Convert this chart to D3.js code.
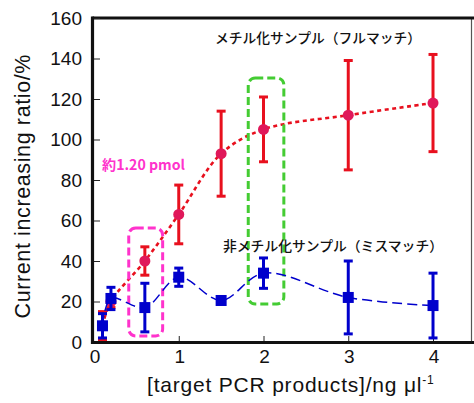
<!DOCTYPE html>
<html>
<head>
<meta charset="utf-8">
<script src="https://cdn.jsdelivr.net/npm/d3@7"></script>
<style>
  html, body { margin: 0; padding: 0; background: #fff; }
  svg { display: block; }
</style>
</head>
<body>
<div id="chart"></div>
<script>
// DATA
const concs = [0.1, 0.2, 0.6, 1, 1.5, 2, 3, 4];
const fullMatch = [8, 20, 40, 63, 93, 105, 112, 118];
const fullMatchErr = [7, 3, 7, 14.5, 21, 16, 27, 24];
const misMatch = [8, 21.5, 17, 32, 20.5, 34, 22, 18];
const misMatchErr = [6, 5.5, 12, 4.5, 0, 7.5, 18, 16];
const xTicks = [0, 1, 2, 3, 4];
const yTicks = [0, 20, 40, 60, 80, 100, 120, 140, 160];
const fullLabel = "メチル化サンプル（フルマッチ）";
const misLabel = "非メチル化サンプル（ミスマッチ）";
const noteLabel = "約1.20 pmol";

const W = 474, H = 403;
const margin = { top: 18, right: 2, bottom: 61, left: 94 };

const svg = d3.select("#chart").append("svg")
    .attr("width", W).attr("height", H);

const x = d3.scaleLinear().domain([0, 4.46]).range([margin.left, W - margin.right]);
const y = d3.scaleLinear().domain([0, 160]).range([H - margin.bottom, margin.top]);

const red = "#e8101e", redDot = "#e0185a", blue = "#0000cc";

// FRAME
svg.append("line").attr("x1", x(4.46) - 0.5).attr("x2", x(4.46) - 0.5)
    .attr("y1", y(160)).attr("y2", y(0))
    .attr("stroke", "#555").attr("stroke-width", 1.2);
svg.append("line").attr("x1", x(0) - 1.5).attr("x2", W)
    .attr("y1", y(160)).attr("y2", y(160))
    .attr("stroke", "#111").attr("stroke-width", 3);

// AXES (inside ticks)
const yAxis = svg.append("g")
    .attr("transform", `translate(${x(0)},0)`)
    .call(d3.axisRight(y).tickValues(yTicks).tickSize(6).tickFormat(""));
yAxis.select(".domain").remove();
yAxis.selectAll(".tick line").attr("stroke", "#222");
svg.selectAll(".ylab").data(yTicks).enter().append("text")
    .attr("class", "ylab")
    .attr("x", 82).attr("y", d => y(d)).attr("dy", "0.36em")
    .attr("text-anchor", "end")
    .style("font-family", "'Liberation Sans', Arial, sans-serif")
    .style("font-size", "19px").style("fill", "#111")
    .text(d => d);

const xAxis = svg.append("g")
    .attr("transform", `translate(0,${y(0)})`)
    .call(d3.axisTop(x).tickValues(xTicks.filter(d => d > 0)).tickSize(6).tickFormat(""));
xAxis.select(".domain").remove();
xAxis.selectAll(".tick line").attr("stroke", "#222");
svg.selectAll(".xlab").data(xTicks).enter().append("text")
    .attr("class", "xlab")
    .attr("x", d => x(d) + 1).attr("y", y(0) + 21)
    .attr("text-anchor", "middle")
    .style("font-family", "'Liberation Sans', Arial, sans-serif")
    .style("font-size", "19px").style("fill", "#111")
    .text(d => d);

// LINES
const curve = d3.line().x(d => x(d[0])).y(d => y(d[1])).curve(d3.curveCatmullRom.alpha(0.5));
svg.append("path")
    .attr("d", curve(concs.map((c, i) => [c, fullMatch[i]])))
    .attr("fill", "none").attr("stroke", red)
    .attr("stroke-width", 2.6).attr("stroke-dasharray", "4,3.5");

// BOXES
function dashBox(x0, x1, y0, y1, color) {
    svg.append("rect")
        .attr("x", x(x0)).attr("y", y(y1))
        .attr("width", x(x1) - x(x0)).attr("height", y(y0) - y(y1))
        .attr("rx", 7).attr("ry", 7)
        .attr("fill", "none").attr("stroke", color)
        .attr("stroke-width", 3).attr("stroke-dasharray", "8,4");
}
dashBox(0.41, 0.81, 3, 56.3, "#ff33cc");
dashBox(1.82, 2.24, 18.8, 130.4, "#44cc33");

// RED ERROR BARS + MARKERS
const redG = svg.append("g");
concs.forEach((c, i) => {
    const e = fullMatchErr[i];
    if (e <= 0) return;
    redG.append("line").attr("x1", x(c)).attr("x2", x(c))
        .attr("y1", y(fullMatch[i] - e)).attr("y2", y(fullMatch[i] + e))
        .attr("stroke", red).attr("stroke-width", 3);
    [fullMatch[i] - e, fullMatch[i] + e].forEach(v => {
        redG.append("line").attr("x1", x(c) - 4.5).attr("x2", x(c) + 4.5)
            .attr("y1", y(v)).attr("y2", y(v))
            .attr("stroke", red).attr("stroke-width", 3);
    });
});
redG.selectAll("circle").data(concs).enter().append("circle")
    .attr("cx", d => x(d)).attr("cy", (d, i) => y(fullMatch[i]))
    .attr("r", 5.5).attr("fill", redDot);

// BLUE
svg.append("path")
    .attr("d", curve(concs.map((c, i) => [c, misMatch[i]])))
    .attr("fill", "none").attr("stroke", blue)
    .attr("stroke-width", 1.5).attr("stroke-dasharray", "10,5");
const blueG = svg.append("g");
concs.forEach((c, i) => {
    const e = misMatchErr[i];
    if (e <= 0) return;
    blueG.append("line").attr("x1", x(c)).attr("x2", x(c))
        .attr("y1", y(misMatch[i] - e)).attr("y2", y(misMatch[i] + e))
        .attr("stroke", blue).attr("stroke-width", 3);
    [misMatch[i] - e, misMatch[i] + e].forEach(v => {
        blueG.append("line").attr("x1", x(c) - 4.5).attr("x2", x(c) + 4.5)
            .attr("y1", y(v)).attr("y2", y(v))
            .attr("stroke", blue).attr("stroke-width", 3);
    });
});
blueG.selectAll("rect").data(concs).enter().append("rect")
    .attr("x", d => x(d) - 5.5).attr("y", (d, i) => y(misMatch[i]) - 5.5)
    .attr("width", 11).attr("height", 11).attr("fill", blue);

// BOTTOM + LEFT AXIS LINES (on top)
svg.append("line").attr("x1", x(0) - 1.5).attr("x2", W)
    .attr("y1", y(0) + 0.5).attr("y2", y(0) + 0.5)
    .attr("stroke", "#111").attr("stroke-width", 3.2);
svg.append("line").attr("x1", x(0) - 1.5).attr("x2", x(0) - 1.5)
    .attr("y1", y(160) - 1.5).attr("y2", y(0) + 2)
    .attr("stroke", "#111").attr("stroke-width", 3.2);

// TEXT
const jp = "'Noto Sans CJK JP', 'Noto Sans', sans-serif";
svg.append("text").attr("x", 215).attr("y", 42.5)
    .attr("textLength", 206).attr("lengthAdjust", "spacingAndGlyphs")
    .style("font-family", jp).style("font-size", "13.5px").style("font-weight", 500)
    .style("fill", "#111")
    .text(fullLabel);
svg.append("text").attr("x", 223).attr("y", 251)
    .attr("textLength", 220).attr("lengthAdjust", "spacingAndGlyphs")
    .style("font-family", jp).style("font-size", "13.5px").style("font-weight", 500)
    .style("fill", "#111")
    .text(misLabel);
svg.append("text").attr("x", 102).attr("y", 169.5)
    .attr("textLength", 83).attr("lengthAdjust", "spacingAndGlyphs")
    .style("font-family", jp).style("font-size", "14px").style("font-weight", "bold")
    .style("fill", "#ff33cc")
    .text(noteLabel);

const lab = "'Liberation Sans', Arial, sans-serif";
svg.append("text")
    .attr("transform", "translate(30,186.5) rotate(-90)")
    .attr("text-anchor", "middle")
    .attr("textLength", 264).attr("lengthAdjust", "spacing")
    .style("font-family", lab).style("font-size", "21.5px").style("fill", "#111")
    .text("Current increasing ratio/%");

const xl = svg.append("text")
    .attr("x", 147).attr("y", 392)
    .style("font-family", lab).style("font-size", "21px").style("fill", "#111")
    .style("letter-spacing", "0.8px");
xl.append("tspan").text("[target PCR products]/ng μl");
xl.append("tspan").attr("dy", -8).style("font-size", "12px").text("-1");
</script>
</body>
</html>
